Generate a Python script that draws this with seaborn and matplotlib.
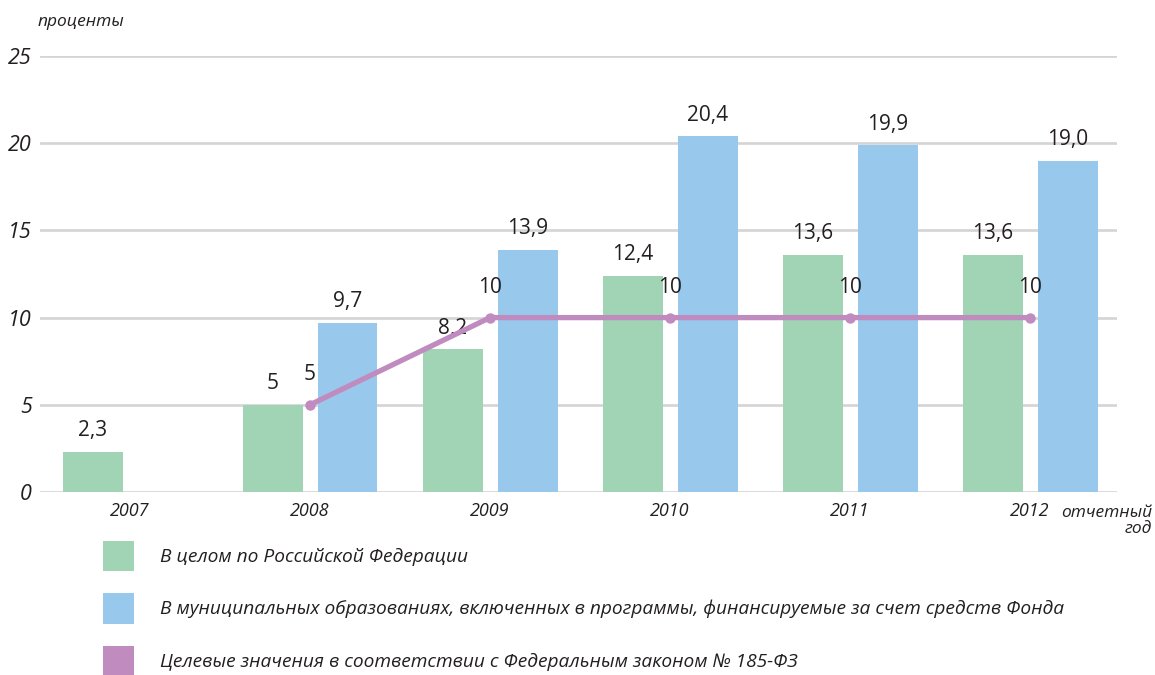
import matplotlib
matplotlib.use("Agg")
import matplotlib.pyplot as plt
from matplotlib.patches import Patch
import pandas as pd
import seaborn as sns

# data
years = ["2007", "2008", "2009", "2010", "2011", "2012"]
russia_total = [2.3, 5.0, 8.2, 12.4, 13.6, 13.6]
fund_municipal = [None, 9.7, 13.9, 20.4, 19.9, 19.0]
target_years = ["2008", "2009", "2010", "2011", "2012"]
target_values = [5, 10, 10, 10, 10]

series_names = [
    "В целом по Российской Федерации",
    "В муниципальных образованиях, включенных в программы, финансируемые за счет средств Фонда",
    "Целевые значения в соответствии с Федеральным законом № 185-ФЗ",
]
colors = ["#a0d4b4", "#98c8eb", "#c08cc0"]

sns.set_style("white")
plt.rcParams["font.family"] = ["Open Sans", "DejaVu Sans"]

df = pd.DataFrame({
    "year": years * 2,
    "value": russia_total + fund_municipal,
    "series": [series_names[0]] * len(years) + [series_names[1]] * len(years),
})
df = df.dropna()

fig = plt.figure(figsize=(11.55, 6.75), dpi=100)
ax = fig.add_axes([40 / 1155, 1 - 492 / 675, (1117 - 40) / 1155, (492 - 56) / 675])

sns.barplot(data=df, x="year", y="value", hue="series", order=years,
            hue_order=series_names[:2], palette=colors[:2],
            width=0.833, gap=0.2, saturation=1, linewidth=0, legend=False, ax=ax)

# value labels on bars, decimal comma ("5" stays whole like in the source)
for cont, vals in zip(ax.containers, [russia_total, [v for v in fund_municipal if v is not None]]):
    labs = [("5" if v == 5 else f"{v:.1f}".replace(".", ",")) for v in vals]
    ax.bar_label(cont, labels=labs, padding=7.5, fontsize=15, color="#231f20")

# target line
xpos = [years.index(y) for y in target_years]
sns.lineplot(x=xpos, y=target_values, color=colors[2], linewidth=3.8,
             marker="o", markersize=7.5, markeredgewidth=0, ax=ax, zorder=5)
for x, v in zip(xpos, target_values):
    ax.annotate(str(v), (x, v), xytext=(0, 21.5), textcoords="offset points",
                ha="center", va="center", fontsize=15, color="#231f20")

ax.set_xlim(-0.5, 5.483)
ax.set_ylim(0, 25)
ax.set_yticks([0, 5, 10, 15, 20, 25])
ax.yaxis.grid(True, color="#d4d4d4", linewidth=1.9)
ax.set_axisbelow(True)
sns.despine(ax=ax, left=True, bottom=True)
ax.tick_params(axis="both", length=0)
ax.tick_params(axis="y", pad=6, labelsize=15.5, labelcolor="#231f20")
ax.tick_params(axis="x", pad=7.5, labelsize=13, labelcolor="#231f20")
for t in ax.get_yticklabels() + ax.get_xticklabels():
    t.set_style("italic")
ax.set_xlabel("")
ax.set_ylabel("")

fig.text(38 / 1155, 1 - 22 / 675, "проценты", style="italic", fontsize=12.5,
         color="#231f20", ha="left", va="center")
fig.text(1152 / 1155, 1 - 521 / 675, "отчетный\nгод", style="italic", fontsize=12.5,
         color="#231f20", ha="right", va="center", multialignment="right", linespacing=1.05)

handles = [Patch(facecolor=c, edgecolor="none") for c in colors]
fig.legend(handles, series_names, loc="upper left", bbox_to_anchor=(103 / 1155, 1 - 541 / 675),
           frameon=False, borderpad=0, borderaxespad=0, handlelength=1.62, handleheight=2.05,
           handletextpad=1.35, labelspacing=1.15, prop={"style": "italic", "size": 13.8},
           labelcolor="#231f20")

fig.savefig("out.png", dpi=100)
